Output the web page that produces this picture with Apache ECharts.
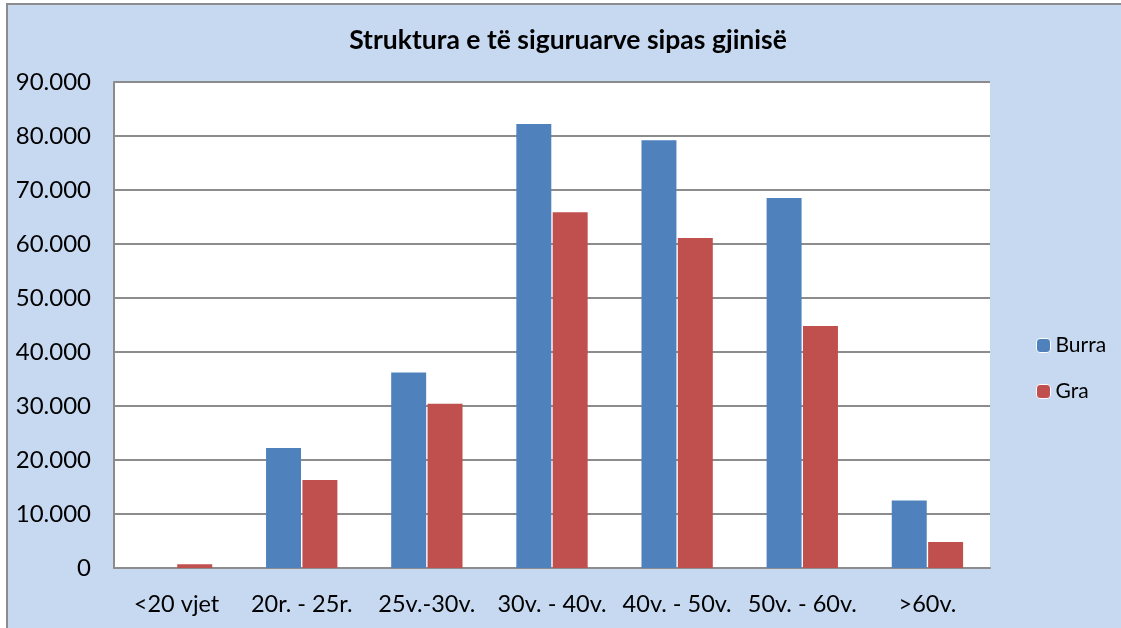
<!DOCTYPE html>
<html>
<head>
<meta charset="utf-8">
<script src="https://cdn.jsdelivr.net/npm/echarts@6/dist/echarts.min.js"></script>
<style>
  html, body { margin: 0; padding: 0; background: #fff; overflow: hidden; }
  #frame { position: absolute; left: 6px; top: 3px; width: 1200px; height: 700px;
           background: #c6d9f1; border: 2px solid #8c8c8c; }
  #main { position: absolute; left: 0; top: 0; width: 1121px; height: 628px; }
</style>
</head>
<body>
<div id="frame"></div>
<div id="main"></div>
<script>
// kategorite e moshes
var categories = ['<20 vjet', '20r. - 25r.', '25v.-30v.', '30v. - 40v.', '40v. - 50v.', '50v. - 60v.', '>60v.'];
var burra = [0, 22200, 36200, 82200, 79200, 68500, 12500];
var gra = [700, 16300, 30400, 65900, 61100, 44800, 4800];
var seriesNames = ['Burra', 'Gra'];
var yMax = 90000;
var yStep = 10000;

// 10000 -> "10.000"
function fmt(v) {
    return String(v).replace(/\B(?=(\d{3})+(?!\d))/g, '.');
}

var myChart = echarts.init(document.getElementById('main'));

var option = {
    backgroundColor: 'transparent',
    animation: false,
    title: {
        text: 'Struktura e të siguruarve sipas gjinisë',
        left: 563,
        textAlign: 'center',
        top: 22,
        textStyle: { fontFamily: 'Lato', fontWeight: 'bold', fontSize: 26.5, color: '#000' }
    },
    legend: {
        orient: 'vertical',
        left: 1031,
        top: 330,
        itemWidth: 14,
        itemHeight: 14,
        itemGap: 25,
        data: seriesNames,
        itemStyle: { borderColor: '#fff', borderWidth: 1 },
        textStyle: { fontFamily: 'Lato', fontSize: 21, color: '#000', lineHeight: 20 }
    },
    grid: {
        left: 114,
        top: 82,
        right: 131,
        bottom: 60,
        show: true,
        backgroundColor: '#fff',
        borderWidth: 0
    },
    xAxis: {
        type: 'category',
        data: categories,
        axisTick: { show: false },
        axisLine: { lineStyle: { color: '#8c8c8c', width: 2 } },
        axisLabel: { fontFamily: 'Lato', fontSize: 23.5, color: '#000', margin: 24, interval: 0 }
    },
    yAxis: {
        type: 'value',
        min: 0,
        max: yMax,
        interval: yStep,
        axisTick: { show: false },
        axisLine: { show: true, lineStyle: { color: '#8c8c8c', width: 2 } },
        splitLine: { lineStyle: { color: '#8c8c8c', width: 2 } },
        axisLabel: { fontFamily: 'Lato', fontSize: 24, color: '#000', margin: 23, formatter: fmt }
    },
    series: [
        {
            name: seriesNames[0],
            type: 'bar',
            data: burra,
            barGap: '4%',
            barCategoryGap: '43%',
            itemStyle: { color: '#4f81bd' }
        },
        {
            name: seriesNames[1],
            type: 'bar',
            data: gra,
            barGap: '4%',
            barCategoryGap: '43%',
            itemStyle: { color: '#c0504d' }
        }
    ]
};

myChart.setOption(option);
</script>
</body>
</html>
